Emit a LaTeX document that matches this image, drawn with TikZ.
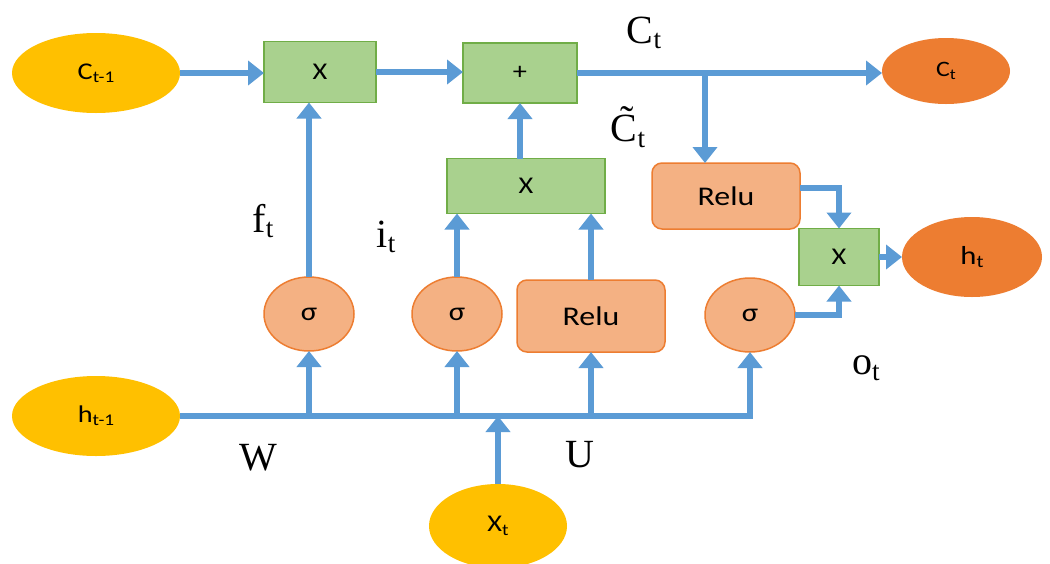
\documentclass[tikz,border=0pt]{standalone}
\usepackage{fontspec}
\setmainfont{Liberation Serif}
\newfontfamily\calib[FakeStretch=1.18]{Carlito}
\usetikzlibrary{shapes.geometric,arrows.meta}
\definecolor{flow}{HTML}{5B9BD5}
\definecolor{inyel}{HTML}{FFC000}
\definecolor{outor}{HTML}{ED7D31}
\definecolor{salmon}{HTML}{F4B183}
\definecolor{gfill}{HTML}{A9D18E}
\definecolor{gline}{HTML}{70AD47}
\newcommand\lsub[1]{\raisebox{-0.3ex}{\scalebox{0.68}{#1}}}
\tikzset{
  flowline/.style={draw=flow, line width=5.5pt, -{Triangle[width=24pt,length=16pt]}},
  inell/.style={ellipse, fill=inyel, draw=none, minimum width=168pt, minimum height=80pt,
    font=\calib\fontsize{24}{26}\selectfont, inner sep=0pt, outer sep=0pt},
  outell/.style={ellipse, fill=outor, draw=none, font=\calib\fontsize{22}{24}\selectfont,
    inner sep=0pt, outer sep=0pt},
  gbox/.style={rectangle, fill=gfill, draw=gline, line width=1.5pt,
    font=\calib\fontsize{24}{26}\selectfont, inner sep=0pt, outer sep=0pt},
  rbox/.style={rectangle, rounded corners=10pt, fill=salmon, draw=outor, line width=1.5pt,
    font=\calib\fontsize{27}{29}\selectfont, inner sep=0pt, outer sep=0pt},
  sig/.style={ellipse, fill=salmon, draw=outor, line width=1.5pt, minimum width=90pt,
    minimum height=74pt, font=\calib\fontsize{26}{28}\selectfont, inner sep=0pt, outer sep=0pt},
  lbl/.style={font=\fontsize{40}{44}\selectfont, inner sep=0pt}
}
\begin{document}
\begin{tikzpicture}[x=1pt,y=-1pt]
\useasboundingbox (0,0) rectangle (1050,563);
\fill[white] (0,0) rectangle (1050,563);

% cell state path
\node[inell] (cprev) at (96,73) {C\lsub{t-1}};
\node[gbox, minimum width=112pt, minimum height=61pt] (mulf) at (320,72) {X};
\node[gbox, minimum width=114pt, minimum height=60pt] (add) at (520,73) {+};
\node[outell, minimum width=128pt, minimum height=66pt] (cout) at (946,71) {C\lsub{t}};

% candidate and output gates
\node[gbox, minimum width=158pt, minimum height=55pt] (mulc) at (526,186) {X};
\node[rbox, minimum width=148pt, minimum height=66pt] (relu1) at (726,196) {Relu};
\node[gbox, minimum width=80pt, minimum height=57pt] (mulo) at (839,257) {X};
\node[outell, minimum width=140pt, minimum height=80pt, font=\calib\fontsize{26}{28}\selectfont] (hout) at (972,257) {h\lsub{t}};

% gate activations
\node[sig] (sf) at (309,314) {σ};
\node[sig] (si) at (457,314) {σ};
\node[rbox, minimum width=148pt, minimum height=72pt] (relu2) at (591,316) {Relu};
\node[sig] (so) at (750,315) {σ};

% inputs
\node[inell] (hprev) at (96,416) {h\lsub{t-1}};
\node[inell, minimum width=138pt, minimum height=84pt] (xin) at (498,526) {X\lsub{t}};

% labels
\node[lbl] (lct) at (644,33) {C\lsub{t}};
\node[lbl] (lctt) at (628,127) {\~C\lsub{t}};
\node[lbl] (lf) at (263,221) {f\lsub{t}};
\node[lbl] (li) at (386,237) {i\lsub{t}};
\node[lbl] (lo) at (866,368) {o\lsub{t}};
\node[lbl] (lw) at (258,458) {W};
\node[lbl] (lu) at (580,455) {U};

% connectors along the cell state
\draw[flowline] (cprev.east) -- (mulf.west |- cprev.east);
\draw[flowline] (mulf.east) -- (add.west |- mulf.east);
\draw[flowline] (add.east) -- (cout.west |- add.east);
\coordinate (br) at (705,73);
\draw[flowline] (br) -- (br |- relu1.north);

% gate outputs
\draw[flowline] (sf.north) -- (sf.north |- mulf.south);
\draw[flowline] (si.north) -- (si.north |- mulc.south);
\draw[flowline] (relu2.north) -- (relu2.north |- mulc.south);
\draw[flowline] (add.south |- mulc.north) -- (add.south);
\draw[flowline] ([yshift=8pt]relu1.east) -| (mulo.north);
\draw[flowline] (so.east) -| (mulo.south);
\draw[flowline] (mulo.east) -- (hout.west);

% input bus
\draw[flowline] (hprev.east) -| (so.south);
\draw[flowline] (sf.south |- hprev.east) -- (sf.south);
\draw[flowline] (si.south |- hprev.east) -- (si.south);
\draw[flowline] (relu2.south |- hprev.east) -- (relu2.south);
\draw[flowline] (xin.north) -- (xin.north |- hprev.east);
\end{tikzpicture}
\end{document}
